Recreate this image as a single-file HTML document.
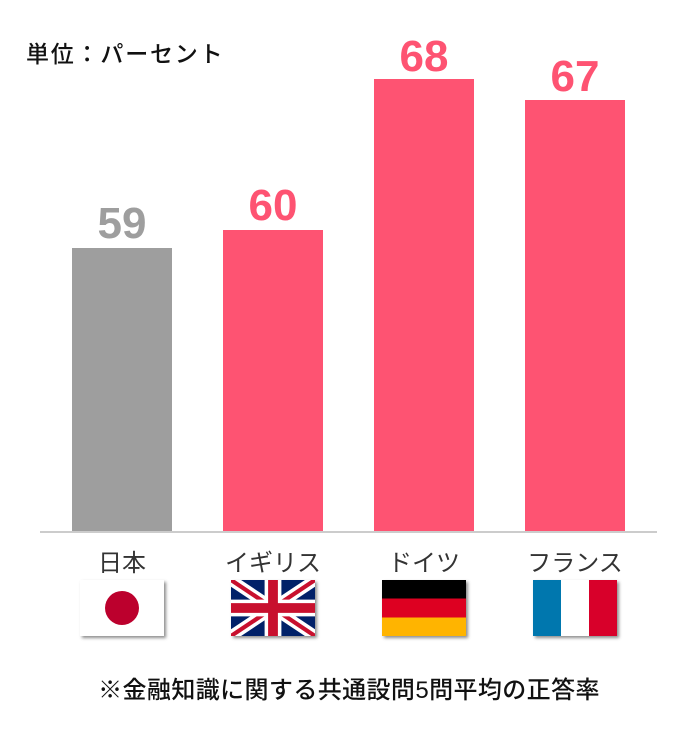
<!DOCTYPE html>
<html><head><meta charset="utf-8"><style>
body{margin:0;width:698px;height:732px;background:#fff;font-family:"Liberation Sans","Noto Sans CJK JP",sans-serif;position:relative;overflow:hidden}
.a{position:absolute}
.bar{position:absolute;width:100px;bottom:200px}
.v{position:absolute;width:100px;text-align:center;font-weight:bold;font-size:44px;line-height:44px}
.l{position:absolute;width:140px;text-align:center;font-size:24px;color:#333;top:543px}
.f{position:absolute;top:580px;width:84px;height:56px;box-shadow:2px 2px 3px rgba(0,0,0,.45);overflow:hidden}
</style></head><body>
<div class="a" style="left:26px;top:35px;font-size:23px;color:#111;font-weight:500;letter-spacing:1.8px">単位：パーセント</div>
<div class="bar" style="left:72px;top:248px;background:#9e9e9e"></div>
<div class="bar" style="left:223px;top:230px;background:#fe5372"></div>
<div class="bar" style="left:374px;top:79px;background:#fe5372"></div>
<div class="bar" style="left:525px;top:100px;background:#fe5372"></div>
<div class="v" style="left:72px;top:202px;color:#9e9e9e">59</div>
<div class="v" style="left:223px;top:184px;color:#fe5372">60</div>
<div class="v" style="left:374px;top:35px;color:#fe5372">68</div>
<div class="v" style="left:525px;top:55px;color:#fe5372">67</div>
<div class="a" style="left:40px;top:531px;width:617px;height:2px;background:#ccc"></div>
<div class="l" style="left:52px">日本</div>
<div class="l" style="left:203px">イギリス</div>
<div class="l" style="left:354px">ドイツ</div>
<div class="l" style="left:505px">フランス</div>
<div class="f" style="left:80px;background:#fff"><div class="a" style="left:25px;top:11px;width:34px;height:34px;border-radius:50%;background:#bc002d"></div></div>
<div class="f" style="left:231px"><svg width="84" height="56" viewBox="0 0 60 40" preserveAspectRatio="none"><rect width="60" height="40" fill="#012169"/><path d="M0,0L60,40M60,0L0,40" stroke="#fff" stroke-width="8"/><path d="M0,0L60,40M60,0L0,40" stroke="#c8102e" stroke-width="3"/><path d="M30,0V40M0,20H60" stroke="#fff" stroke-width="12"/><path d="M30,0V40M0,20H60" stroke="#c8102e" stroke-width="7"/></svg></div>
<div class="f" style="left:382px;background:linear-gradient(#000 0 33.3%,#dd0021 33.3% 66.6%,#ffb400 66.6%)"></div>
<div class="f" style="left:533px;background:linear-gradient(90deg,#0077ae 0 33.3%,#fff 33.3% 66.6%,#d8002a 66.6%)"></div>
<div class="a" style="left:0;width:698px;top:670px;text-align:center;font-size:24px;color:#111;font-weight:500;letter-spacing:0.4px">※金融知識に関する共通設問5問平均の正答率</div>
</body></html>
